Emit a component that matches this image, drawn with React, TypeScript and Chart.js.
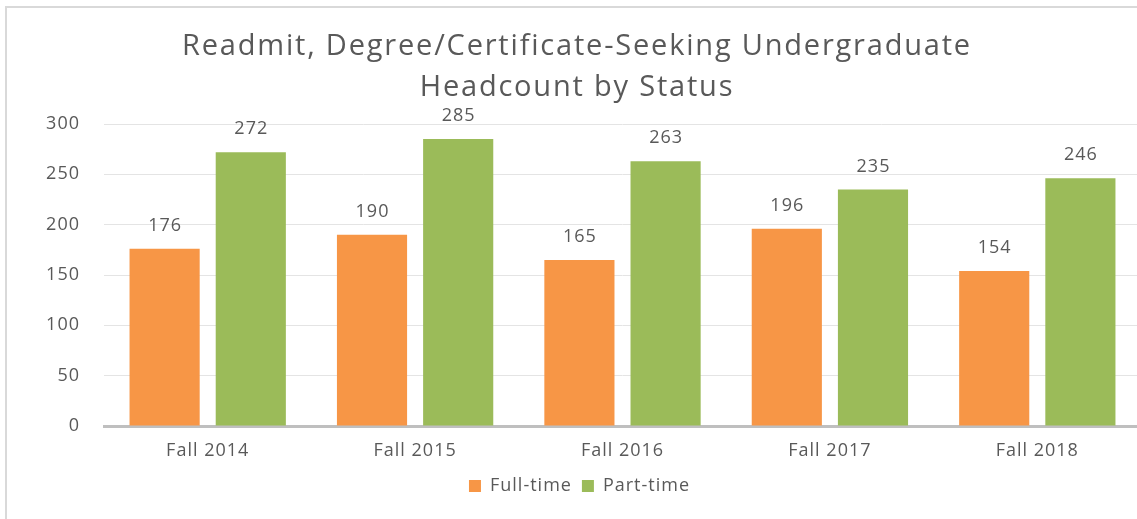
import React, { useEffect, useRef } from "react";
import { Chart, registerables } from "chart.js";

Chart.register(...registerables);

const categories = ["Fall 2014", "Fall 2015", "Fall 2016", "Fall 2017", "Fall 2018"];
const fullTime = [176, 190, 165, 196, 154];
const partTime = [272, 285, 263, 235, 246];
const titleLines = ["Readmit, Degree/Certificate-Seeking Undergraduate", "Headcount by Status"];
const yTicks = [0, 50, 100, 150, 200, 250, 300];

const FONT = "'Open Sans', 'Noto Sans', sans-serif";
const TEXT = "#595959";

const overlayPlugin = {
  id: "overlay",
  beforeDraw(chart: any) {
    (chart.ctx as any).letterSpacing = "1px";
  },
  afterDraw(chart: any) {
    const ctx = chart.ctx;
    ctx.save();
    // title
    ctx.fillStyle = TEXT;
    ctx.font = `29px ${FONT}`;
    (ctx as any).letterSpacing = "1.8px";
    ctx.textAlign = "center";
    ctx.textBaseline = "middle";
    ctx.fillText(titleLines[0], 577, 47);
    ctx.fillText(titleLines[1], 577, 88);
    // data labels
    (ctx as any).letterSpacing = "1px";
    ctx.font = `18px ${FONT}`;
    chart.data.datasets.forEach((ds: any, i: number) => {
      const meta = chart.getDatasetMeta(i);
      meta.data.forEach((bar: any, j: number) => {
        ctx.fillText(String(ds.data[j]), bar.x + 0.5, bar.y - 23);
      });
    });
    ctx.restore();
    (ctx as any).letterSpacing = "0px";
  },
};

export default function App() {
  const ref = useRef<HTMLCanvasElement>(null);
  useEffect(() => {
    if (!ref.current) return;
    const chart = new Chart(ref.current, {
      type: "bar",
      data: {
        labels: categories,
        datasets: [
          { label: "Full-time", data: fullTime, backgroundColor: "#F79646" },
          { label: "Part-time", data: partTime, backgroundColor: "#9BBB59" },
        ],
      },
      options: {
        responsive: false,
        animation: false,
        datasets: { bar: { categoryPercentage: 0.831, barPercentage: 0.814 } },
        layout: { padding: { top: 124, left: 0, right: 0, bottom: 14 } },
        plugins: {
          title: { display: false },
          tooltip: { enabled: false },
          legend: {
            position: "bottom",
            labels: {
              boxWidth: 12,
              boxHeight: 12,
              color: TEXT,
              font: { family: FONT, size: 18 },
              padding: 10,
            },
          },
        },
        scales: {
          x: {
            grid: { display: false },
            border: { color: "#bfbfbf", width: 3 },
            ticks: { color: TEXT, font: { family: FONT, size: 18 }, padding: 6 },
            afterFit(scale: any) {
              scale.height = 41;
            },
          },
          y: {
            min: 0,
            max: 300,
            afterBuildTicks(scale: any) {
              scale.ticks = yTicks.map((v) => ({ value: v }));
            },
            grid: { color: "#e4e4e4", lineWidth: 1, drawTicks: false },
            border: { display: false },
            ticks: { color: TEXT, font: { family: FONT, size: 18 }, padding: 24 },
            afterFit(scale: any) {
              scale.width = 104;
            },
          },
        },
      },
      plugins: [overlayPlugin],
    });
    return () => chart.destroy();
  }, []);
  return (
    <div style={{ position: "fixed", left: 0, top: 0, width: 1137, height: 519, overflow: "hidden", background: "#fff" }}>
      <canvas ref={ref} width={1141} height={519} style={{ position: "absolute", left: 0, top: 0 }} />
      <div
        style={{
          position: "absolute",
          left: 5,
          top: 6,
          width: 1200,
          height: 600,
          border: "2px solid #d9d9d9",
          boxSizing: "border-box",
          pointerEvents: "none",
        }}
      />
    </div>
  );
}
